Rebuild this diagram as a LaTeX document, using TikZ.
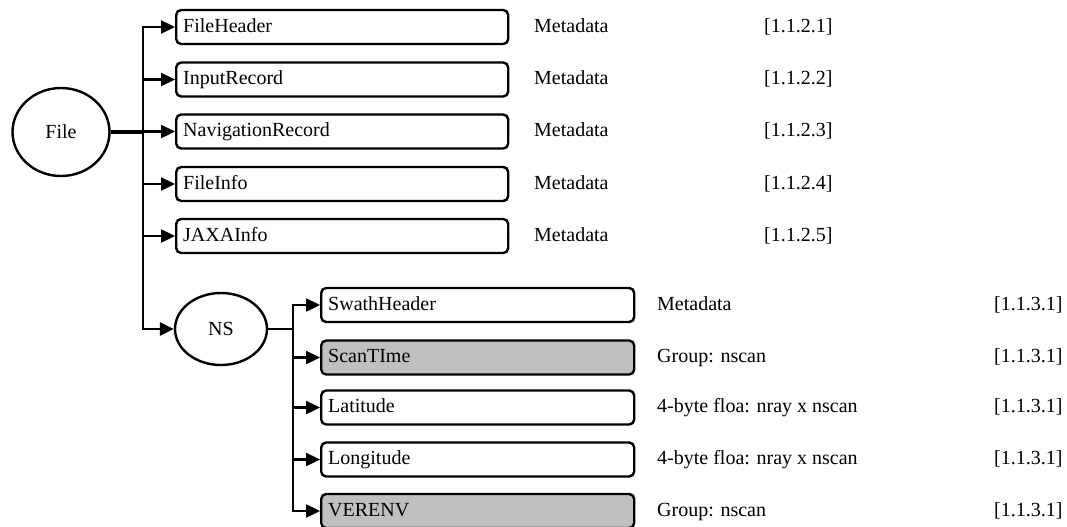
\documentclass[tikz,border=0pt]{standalone}
\usepackage{fontspec}
\setmainfont{Liberation Serif}
\usetikzlibrary{positioning, arrows.meta, shapes.geometric}

\begin{document}
\begin{tikzpicture}[
    x=0.5pt, y=-0.5pt,
    font=\fontsize{10}{12}\selectfont,
    every path/.style={line width=1.2pt},
    grp/.style={ellipse, draw, line width=1.2pt, inner sep=0pt},
    item/.style={draw, rounded corners=2.5pt, line width=1.2pt, minimum height=17pt,
        text height=7pt, text depth=2pt,
        inner xsep=3.5pt, inner ysep=0pt, align=left, anchor=west},
    topitem/.style={item, text width=159pt},
    nsitem/.style={item, text width=149.5pt},
    shaded/.style={fill=silverfill},
    branch/.style={-{Triangle[length=7pt, width=6.5pt]}, line width=1.2pt},
    info/.style={anchor=west, inner sep=0pt, text height=7pt, text depth=2pt}
]
\definecolor{silverfill}{HTML}{C0C0C0}
\useasboundingbox (0,0) rectangle (1067,526);

% Root and sub group
\node[grp, minimum width=48.5pt, minimum height=44pt] (file) at (61,132) {File};
\node[grp, minimum width=46pt, minimum height=36pt] (ns) at (221,329) {NS};

% File members
\node[topitem] (fh) at (175,27) {FileHeader};
\node[topitem] (ir) at (175,79.5) {InputRecord};
\node[topitem] (nr) at (175,131.5) {NavigationRecord};
\node[topitem] (fi) at (175,184) {FileInfo};
\node[topitem] (ji) at (175,236) {JAXAInfo};

% NS members
\node[nsitem] (sh) at (320,305) {SwathHeader};
\node[nsitem, shaded] (st) at (320,357.5) {ScanTIme};
\node[nsitem] (la) at (320,407.5) {Latitude};
\node[nsitem] (lo) at (320,459.5) {Longitude};
\node[nsitem, shaded] (ve) at (320,511) {VERENV};

% Branch points
\coordinate (ftrunk) at (143,132);
\coordinate (nstrunk) at (293,329);

\draw[line width=2pt] (file.east) -- (ftrunk);
\foreach \n in {fh, ir, nr, fi, ji, ns}
    \draw[branch] (ftrunk) |- (\n.west);
\draw (ns.east) -- (nstrunk);
\foreach \n in {sh, st, la, lo, ve}
    \draw[branch] (nstrunk) |- (\n.west);

% Types and references
\node[info] (fht) at (533,27) {Metadata};
\node[info] (irt) at (533,79.5) {Metadata};
\node[info] (nrt) at (533,131.5) {Metadata};
\node[info] (fit) at (533,184) {Metadata};
\node[info] (jit) at (533,236) {Metadata};
\node[info] (fhr) at (763,27) {[1.1.2.1]};
\node[info] (irr) at (763,79.5) {[1.1.2.2]};
\node[info] (nrr) at (763,131.5) {[1.1.2.3]};
\node[info] (fir) at (763,184) {[1.1.2.4]};
\node[info] (jir) at (763,236) {[1.1.2.5]};

\node[info] (sht) at (656,305) {Metadata};
\node[info] (stt) at (656,357.5) {Group: nscan};
\node[info] (lat) at (656,407.5) {4-byte floa: nray x nscan};
\node[info] (lot) at (656,459.5) {4-byte floa: nray x nscan};
\node[info] (vet) at (656,511) {Group: nscan};
\node[info] (shr) at (993,305) {[1.1.3.1]};
\node[info] (str) at (993,357.5) {[1.1.3.1]};
\node[info] (lar) at (993,407.5) {[1.1.3.1]};
\node[info] (lor) at (993,459.5) {[1.1.3.1]};
\node[info] (ver) at (993,511) {[1.1.3.1]};

\end{tikzpicture}
\end{document}
